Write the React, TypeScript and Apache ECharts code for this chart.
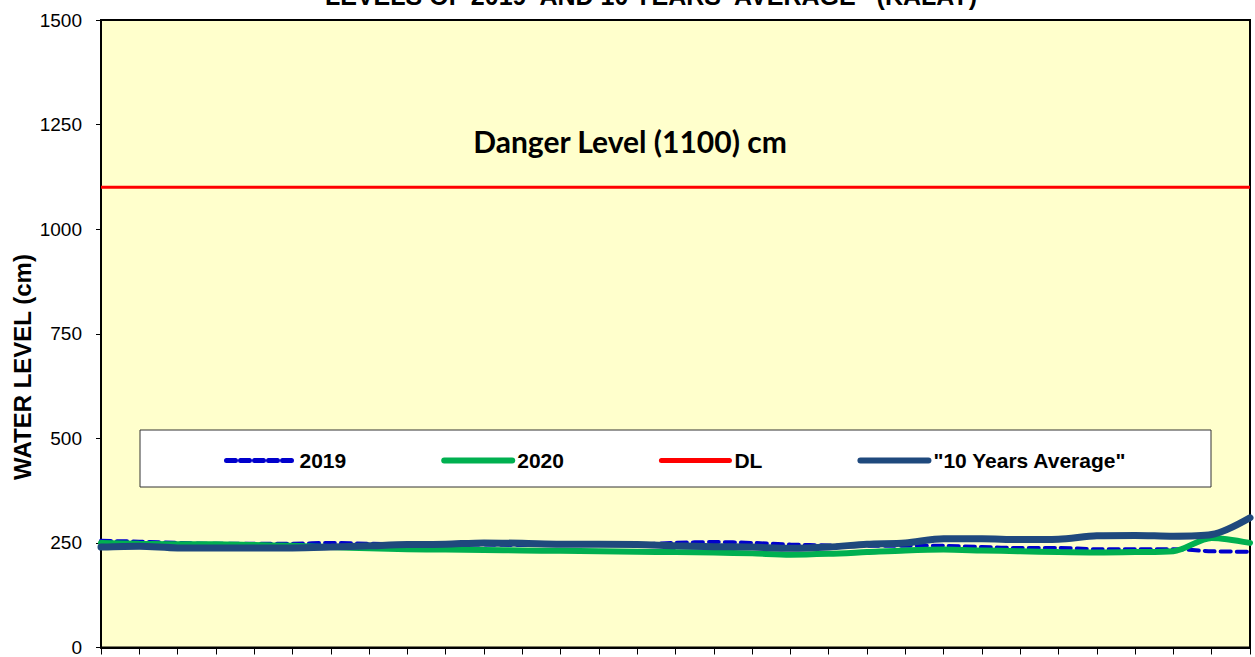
import React, { useEffect, useRef } from "react";
import * as echarts from "echarts";

const days: string[] = Array.from({ length: 31 }, (_, i) => String(i + 1));

const s2019 = [255, 253, 250, 248, 248, 248, 250, 248, 246, 246, 246, 245, 245, 245, 246, 250, 252, 250, 246, 244, 243, 243, 243, 240, 238, 238, 235, 235, 235, 230, 229];
const s2020 = [250, 248, 247, 247, 245, 243, 240, 237, 235, 234, 233, 232, 231, 230, 229, 228, 227, 225, 222, 224, 228, 232, 234, 232, 230, 228, 227, 228, 230, 262, 250];
const dangerLevel = 1100;
const sDL = days.map(() => dangerLevel);
const sAvg = [240, 242, 238, 238, 238, 238, 240, 243, 246, 247, 250, 249, 247, 247, 246, 243, 241, 240, 237, 240, 247, 250, 260, 260, 258, 259, 267, 268, 266, 270, 310];

const titleText = "LEVELS OF 2019  AND 10 YEARS  AVERAGE   (KALAY)";
const dangerText = "Danger Level (1100) cm";
const yName = "WATER LEVEL (cm)";

const C2019 = "#0000CC";
const C2020 = "#00B050";
const CDL = "#FF0000";
const CAVG = "#1F497D";

export default function App() {
  const ref = useRef<HTMLDivElement>(null);
  useEffect(() => {
    if (!ref.current) return;
    const chart = echarts.init(ref.current, undefined, { renderer: "svg" });
    const font = "'Liberation Sans', Arial, sans-serif";
    chart.setOption({
      animation: false,
      textStyle: { fontFamily: font },
      grid: {
        left: 101,
        right: 5,
        top: 20,
        bottom: 7,
        show: true,
        backgroundColor: "#FFFFCC",
        borderColor: "#000",
        borderWidth: 2,
      },
      xAxis: {
        type: "category",
        data: days,
        boundaryGap: false,
        axisLine: { lineStyle: { color: "#000", width: 2 } },
        axisTick: { show: true, interval: 0, length: 7, lineStyle: { color: "#000", width: 1 } },
        axisLabel: { show: false },
        splitLine: { show: false },
      },
      yAxis: {
        type: "value",
        min: 0,
        max: 1500,
        interval: 250,
        axisLine: { show: true, lineStyle: { color: "#000", width: 2 } },
        axisTick: { show: true, length: 5, lineStyle: { color: "#000", width: 1 } },
        axisLabel: {
          color: "#000",
          fontSize: 19,
          margin: 19,
          fontFamily: font,
          formatter: (v: number) => String(v),
        },
        splitLine: { show: false },
      },
      legend: {
        left: 219,
        top: 445,
        itemGap: 95,
        itemWidth: 68,
        itemHeight: 14,
        itemStyle: { opacity: 0 },
        textStyle: { fontSize: 21, fontWeight: "bold", color: "#000", fontFamily: font },
        data: [
          { name: "2019", lineStyle: { color: C2019, width: 5, type: [9, 5], cap: "round" } },
          { name: "2020", lineStyle: { color: C2020, width: 6, cap: "round" } },
          { name: "DL", lineStyle: { color: CDL, width: 5, cap: "round" } },
          { name: '"10 Years Average"', lineStyle: { color: CAVG, width: 6, cap: "round" } },
        ],
      },
      graphic: [
        {
          type: "rect",
          shape: { x: 140, y: 430, width: 1071, height: 57 },
          style: { fill: "#fff", stroke: "#333", lineWidth: 1 },
          z: 1,
        },
        {
          type: "text",
          x: 651,
          y: 8,
          style: {
            text: titleText,
            fontSize: 25,
            fontWeight: "bold",
            fontFamily: font,
            fill: "#000",
            align: "center",
            verticalAlign: "bottom",
          },
        },
        {
          type: "text",
          x: 630,
          y: 141,
          style: {
            text: dangerText,
            fontSize: 30,
            fontWeight: "bold",
            fontFamily: "Lato, 'Open Sans', sans-serif",
            fill: "#000",
            align: "center",
            verticalAlign: "middle",
          },
          z: 10,
        },
        {
          type: "text",
          x: 22,
          y: 367,
          rotation: Math.PI / 2,
          style: {
            text: yName,
            fontSize: 24,
            fontWeight: "bold",
            fontFamily: font,
            fill: "#000",
            align: "center",
            verticalAlign: "middle",
          },
        },
      ],
      series: [
        {
          name: "2019",
          type: "line",
          data: s2019,
          smooth: 0.3,
          showSymbol: false,
          symbol: "none",
          lineStyle: { color: C2019, width: 4, type: [10, 6], cap: "round" },
          itemStyle: { color: C2019 },
          z: 2,
        },
        {
          name: "2020",
          type: "line",
          data: s2020,
          smooth: 0.3,
          showSymbol: false,
          symbol: "none",
          lineStyle: { color: C2020, width: 6, cap: "round" },
          itemStyle: { color: C2020 },
          z: 3,
        },
        {
          name: "DL",
          type: "line",
          data: sDL,
          showSymbol: false,
          symbol: "none",
          lineStyle: { color: CDL, width: 3 },
          itemStyle: { color: CDL },
          z: 4,
        },
        {
          name: '"10 Years Average"',
          type: "line",
          data: sAvg,
          smooth: 0.3,
          showSymbol: false,
          symbol: "none",
          lineStyle: { color: CAVG, width: 7, cap: "round" },
          itemStyle: { color: CAVG },
          z: 5,
        },
      ],
    });
    return () => chart.dispose();
  }, []);
  return (
    <div
      ref={ref}
      style={{ position: "absolute", left: 0, top: 0, width: 1255, height: 657 }}
    />
  );
}
